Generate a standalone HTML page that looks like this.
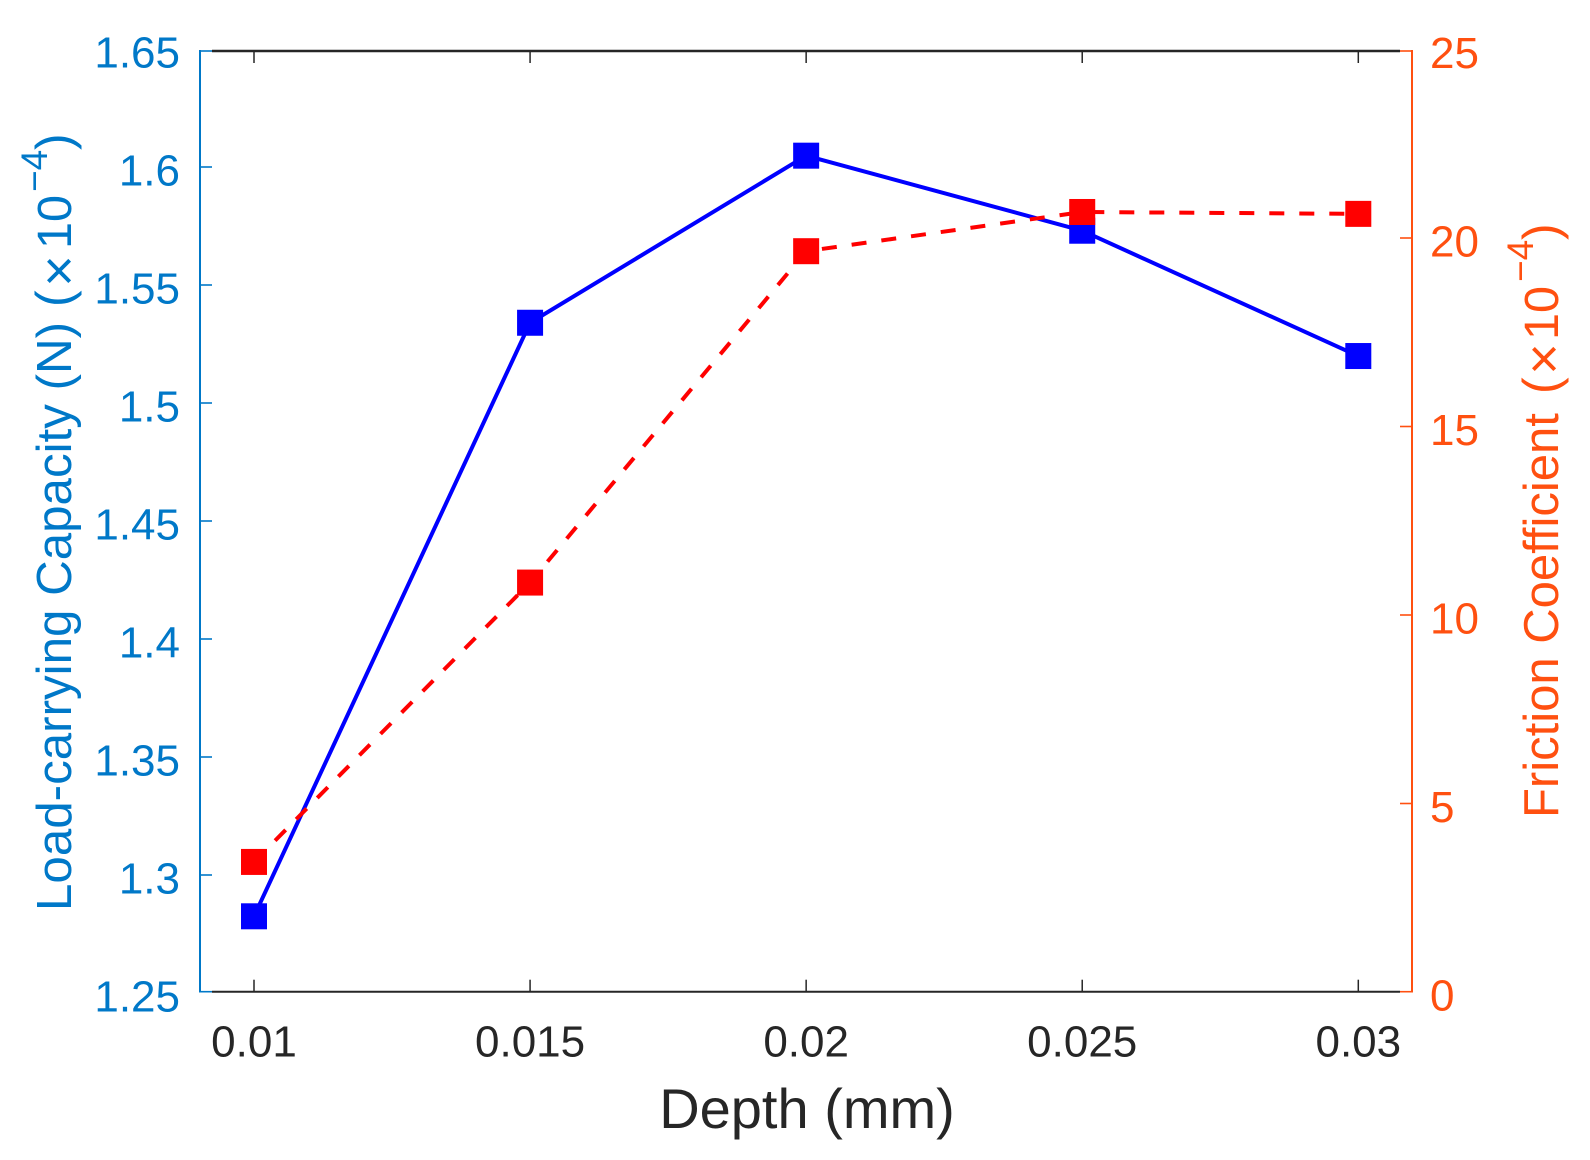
<!DOCTYPE html>
<html lang="en">
<head>
<meta charset="utf-8">
<title>Load-carrying capacity and friction coefficient vs depth</title>
<style>
  html, body { margin: 0; padding: 0; background: #ffffff; }
  svg { display: block; font-family: "Liberation Sans", Arial, sans-serif; }
</style>
</head>
<body>
<svg id="chart" xmlns="http://www.w3.org/2000/svg" width="1590" height="1160" viewBox="0 0 1590 1160">
  <rect x="0" y="0" width="1590" height="1160" fill="#ffffff"/>

  <g id="axes"></g>
  <g id="marks"></g>

  <text x="807" y="1128" font-size="56" fill="#262626" text-anchor="middle">Depth (mm)</text>

  <g fill="#0078c8">
    <text transform="translate(71,911) rotate(-90)" font-size="49.3">Load-carrying Capacity (N)</text>
    <text transform="translate(71,307) rotate(-90)" font-size="50">(</text>
    <text transform="translate(77,271) rotate(-90)" font-size="54" text-anchor="middle">×</text>
    <text transform="translate(71,249) rotate(-90)" font-size="48.5">10</text>
    <text transform="translate(47,192) rotate(-90)" font-size="37">−4</text>
    <text transform="translate(71,150) rotate(-90)" font-size="50">)</text>
  </g>

  <g fill="#ff5010">
    <text transform="translate(1558,818) rotate(-90)" font-size="49">Friction Coefficient</text>
    <text transform="translate(1558,394) rotate(-90)" font-size="50">(</text>
    <text transform="translate(1562,359) rotate(-90)" font-size="54" text-anchor="middle">×</text>
    <text transform="translate(1558,340) rotate(-90)" font-size="48.5">10</text>
    <text transform="translate(1533,282) rotate(-90)" font-size="37">−4</text>
    <text transform="translate(1558,240) rotate(-90)" font-size="50">)</text>
  </g>
</svg>

<script>
// Chart data
const depths = [0.01, 0.015, 0.02, 0.025, 0.03];
const loadCapacity = [1.2825, 1.534, 1.6048, 1.573, 1.5199];
const frictionCoefficient = [3.45, 10.86, 19.65, 20.69, 20.64];
const xTickValues = [0.01, 0.015, 0.02, 0.025, 0.03];
const xTickLabels = ['0.01', '0.015', '0.02', '0.025', '0.03'];
const leftTickValues = [1.25, 1.3, 1.35, 1.4, 1.45, 1.5, 1.55, 1.6, 1.65];
const leftTickLabels = ['1.25', '1.3', '1.35', '1.4', '1.45', '1.5', '1.55', '1.6', '1.65'];
const rightTickValues = [0, 5, 10, 15, 20, 25];
const rightTickLabels = ['0', '5', '10', '15', '20', '25'];

// Plot frame
const LEFT = 200, RIGHT = 1412, TOP = 51, BOTTOM = 991.7, TICK = 12, MARKER = 26;
const COLOR_LEFT = '#0078c8', COLOR_RIGHT = '#ff5010', COLOR_X = '#262626';

// Axis functions
function xScale(v) { return 254 + (v - 0.01) * 55215; }
function yLeft(v) { return 403 + (1.5 - v) * 2360; }
function yRight(v) { return 615 + (10 - v) * 37.7; }
function clampY(y) { return Math.min(BOTTOM, Math.max(TOP, y)); }

const NS = 'http://www.w3.org/2000/svg';
const axes = document.getElementById('axes');
const marks = document.getElementById('marks');

function make(tag, parent, attrs, text) {
  const el = document.createElementNS(NS, tag);
  for (const k in attrs) el.setAttribute(k, attrs[k]);
  if (text !== undefined) el.textContent = text;
  parent.appendChild(el);
  return el;
}

function seg(parent, x1, y1, x2, y2, color, width) {
  return make('line', parent, { x1: x1, y1: y1, x2: x2, y2: y2, stroke: color, 'stroke-width': width });
}

let el;

// Frame lines
el = seg(axes, LEFT + TICK, TOP, RIGHT - TICK, TOP, COLOR_X, 2.4);


el = seg(axes, LEFT + TICK, BOTTOM, RIGHT - TICK, BOTTOM, COLOR_X, 2);


el = seg(axes, LEFT, TOP - 1, LEFT, BOTTOM + 0.8, COLOR_LEFT, 2);


el = seg(axes, RIGHT, TOP - 1, RIGHT, BOTTOM + 0.8, COLOR_RIGHT, 2);



// X ticks and labels
xTickValues.forEach(function (v, i) {
  const x = xScale(v);
  let t = seg(axes, x, BOTTOM, x, BOTTOM - TICK, COLOR_X, 1.5);
  
  
  t = seg(axes, x, TOP, x, TOP + TICK, COLOR_X, 1.5);
  
  
  t = make('text', axes, { x: x, y: 1056.5, 'font-size': 44, fill: COLOR_X, 'text-anchor': 'middle' }, xTickLabels[i]);
  
  
});

// Left ticks and labels
leftTickValues.forEach(function (v, i) {
  const y = yLeft(v);
  let t = seg(axes, LEFT, clampY(y), LEFT + TICK, clampY(y), COLOR_LEFT, 1.6);
  
  
  t = make('text', axes, { x: 180, y: y + 18.5, 'font-size': 44, fill: COLOR_LEFT, 'text-anchor': 'end' }, leftTickLabels[i]);
  
  
});

// Right ticks and labels
rightTickValues.forEach(function (v, i) {
  const y = yRight(v);
  let t = seg(axes, RIGHT - TICK, clampY(y), RIGHT, clampY(y), COLOR_RIGHT, 1.6);
  
  
  t = make('text', axes, { x: 1430, y: y + 18.5, 'font-size': 44, fill: COLOR_RIGHT }, rightTickLabels[i]);
  
  
});

function drawSeries(values, yFn, color, dash, lineName, markerName) {
  const pts = depths.map(function (d, i) { return xScale(d) + ',' + yFn(values[i]); }).join(' ');
  const attrs = { points: pts, fill: 'none', stroke: color, 'stroke-width': 4, 'stroke-linejoin': 'round' };
  if (dash) attrs['stroke-dasharray'] = dash;
  const line = make('polyline', marks, attrs);
  
  
  depths.forEach(function (d, i) {
    const m = make('rect', marks, {
      x: xScale(d) - MARKER / 2,
      y: yFn(values[i]) - MARKER / 2,
      width: MARKER,
      height: MARKER,
      fill: color
    });
    
    
  });
}

drawSeries(loadCapacity, yLeft, '#0000ff', null, 'load-capacity-line', 'load-capacity-marker');
drawSeries(frictionCoefficient, yRight, '#ff0000', '15 15', 'friction-coefficient-line', 'friction-coefficient-marker');
</script>
</body>
</html>
